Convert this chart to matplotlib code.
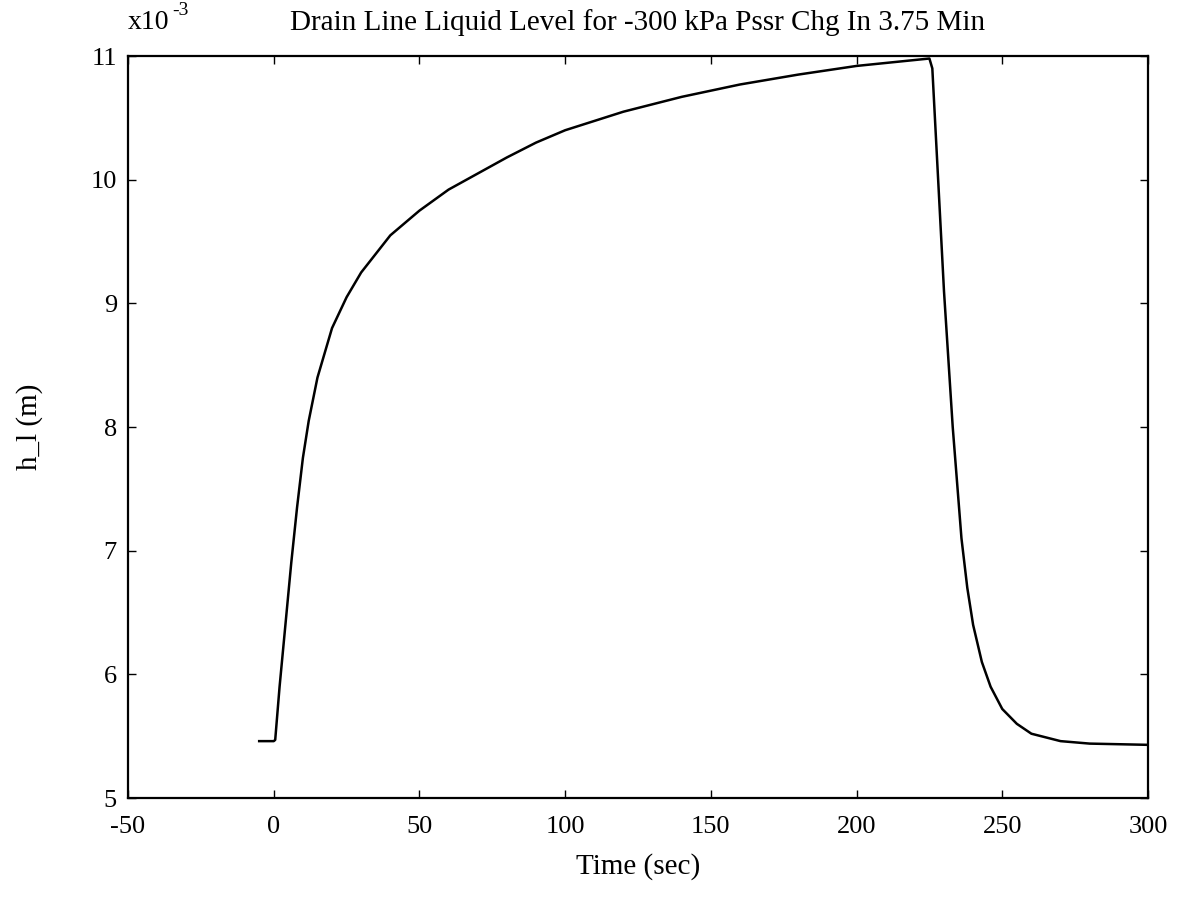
import numpy as np
import matplotlib
matplotlib.use("Agg")
import matplotlib.pyplot as plt

# drain line liquid level, h_l in units of 1e-3 m
time_s = [-5, 0, 0.5, 2, 4, 6, 8, 10, 12, 15, 20, 25, 30, 40, 50, 60, 70,
          80, 90, 100, 120, 140, 160, 180, 200, 225, 226, 228, 230, 233,
          236, 238, 240, 243, 246, 250, 255, 260, 270, 280, 300]
level = [5.46, 5.46, 5.47, 5.9, 6.4, 6.9, 7.35, 7.75, 8.05, 8.4, 8.8, 9.05,
         9.25, 9.55, 9.75, 9.92, 10.05, 10.18, 10.3, 10.4, 10.55, 10.67,
         10.77, 10.85, 10.92, 10.98, 10.9, 10.0, 9.1, 8.0, 7.1, 6.7, 6.4,
         6.1, 5.9, 5.72, 5.6, 5.52, 5.46, 5.44, 5.43]

xticks = [-50, 0, 50, 100, 150, 200, 250, 300]
yticks = [5, 6, 7, 8, 9, 10, 11]

plt.rcParams['font.family'] = ['Liberation Serif', 'DejaVu Serif']
plt.rcParams['axes.unicode_minus'] = False

fig = plt.figure(figsize=(11.78, 9.01), dpi=100)
ax = fig.add_axes([0.1087, 0.1143, 0.8658, 0.8235])

ax.plot(time_s, level, color='black', linewidth=1.8)

ax.set_xlim(-50, 300)
ax.set_ylim(5, 11)
ax.set_xticks(xticks)
ax.set_yticks(yticks)
ax.tick_params(direction='in', length=6, width=1, top=True, right=True,
               labelsize=19)
ax.tick_params(axis='x', pad=13)
ax.tick_params(axis='y', pad=8)
for s in ax.spines.values():
    s.set_linewidth(1.6)

ax.set_title('Drain Line Liquid Level for -300 kPa Pssr Chg In 3.75 Min',
             fontsize=21, pad=19)
ax.set_xlabel('Time (sec)', fontsize=21, labelpad=11)
ax.set_ylabel('h_l (m)', fontsize=21, labelpad=34)

ax.text(0.0, 1.028, 'x10', transform=ax.transAxes, fontsize=20,
        ha='left', va='bottom')
ax.text(0.043, 1.05, '-3', transform=ax.transAxes, fontsize=14,
        ha='left', va='bottom')

fig.savefig('out.png', dpi=100)
